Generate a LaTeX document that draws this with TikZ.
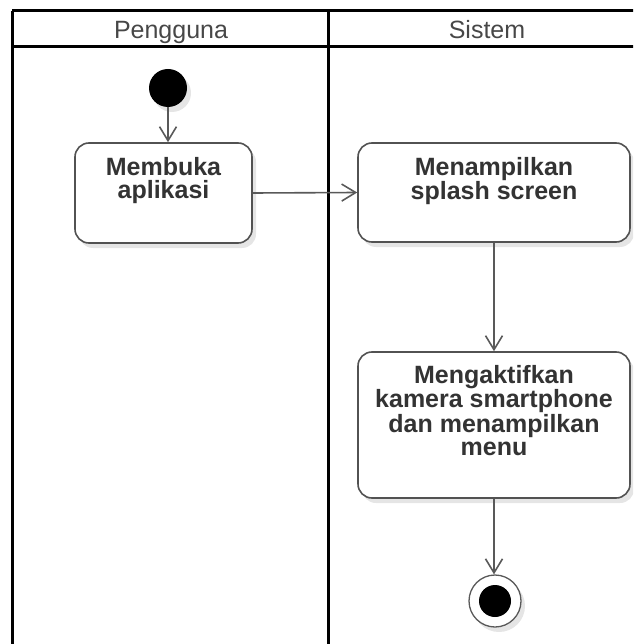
\documentclass[tikz,border=0pt]{standalone}
\usepackage{fontspec}
\setmainfont{Liberation Sans}
\usetikzlibrary{arrows.meta,shadows,calc}
\begin{document}
\begin{tikzpicture}[x=1pt,y=-1pt,
  lane/.style={line width=3pt, black},
  lanetitle/.style={text=black!72, font=\fontsize{25}{28}\selectfont, inner sep=0pt, anchor=base},
  soft/.style={drop shadow={fill=black, opacity=0.10, shadow xshift=4pt, shadow yshift=-5pt}},
  act/.style={draw=black!68, line width=1.6pt, fill=white, rounded corners=14pt, soft},
  acttext/.style={text=black!80, font=\bfseries\fontsize{25}{23}\selectfont, align=center, inner sep=0pt, anchor=north},
  startdot/.style={circle, fill=black, minimum size=38pt, inner sep=0pt, soft},
  endring/.style={circle, draw=black!65, line width=1.3pt, fill=white, minimum size=52pt, inner sep=0pt, soft},
  enddot/.style={circle, fill=black, minimum size=32pt, inner sep=0pt},
  flow/.style={draw=black!65, line width=1.6pt, -{Straight Barb[length=14pt,width=17pt]}}
]
\useasboundingbox (0,0) rectangle (633,644);
\clip (0,0) rectangle (633,644);

% swimlane pool: two lanes with a header row
\draw[lane] (12,11) -- (660,11);
\draw[lane] (12,47) -- (660,47);
\draw[lane] (12,11) -- (12,660);
\draw[lane] (328,11) -- (328,660);
\node[lanetitle] (lane1) at (171,39) {Pengguna};
\node[lanetitle] (lane2) at (487,39) {Sistem};

% activities
\node[startdot] (start) at (168,88) {};
\node[act, minimum width=177pt, minimum height=100pt] (open) at (163.5,193) {};
\node[acttext] at ($(open.north)+(0,15)$) {Membuka\\aplikasi};

\node[act, minimum width=272pt, minimum height=99pt] (splash) at (494,192.5) {};
\node[acttext] at ($(splash.north)+(0,15)$) {Menampilkan\\splash screen};

\node[act, minimum width=272pt, minimum height=146pt] (menu) at (494,425) {};
\node[acttext] at ($(menu.north)+(0,14)$) {Mengaktifkan\\kamera smartphone\\dan menampilkan\\menu};

\node[endring] (finish) at (495,601) {};
\node[enddot] (finishdot) at (finish) {};

% control flow
\draw[flow] (start.south) -- (start.south |- open.north);
\draw[flow] (open.east) -- (splash.west);
\draw[flow] (splash.south) -- (menu.north);
\draw[flow] (menu.south) -- (menu.south |- finish.north);
\end{tikzpicture}
\end{document}
